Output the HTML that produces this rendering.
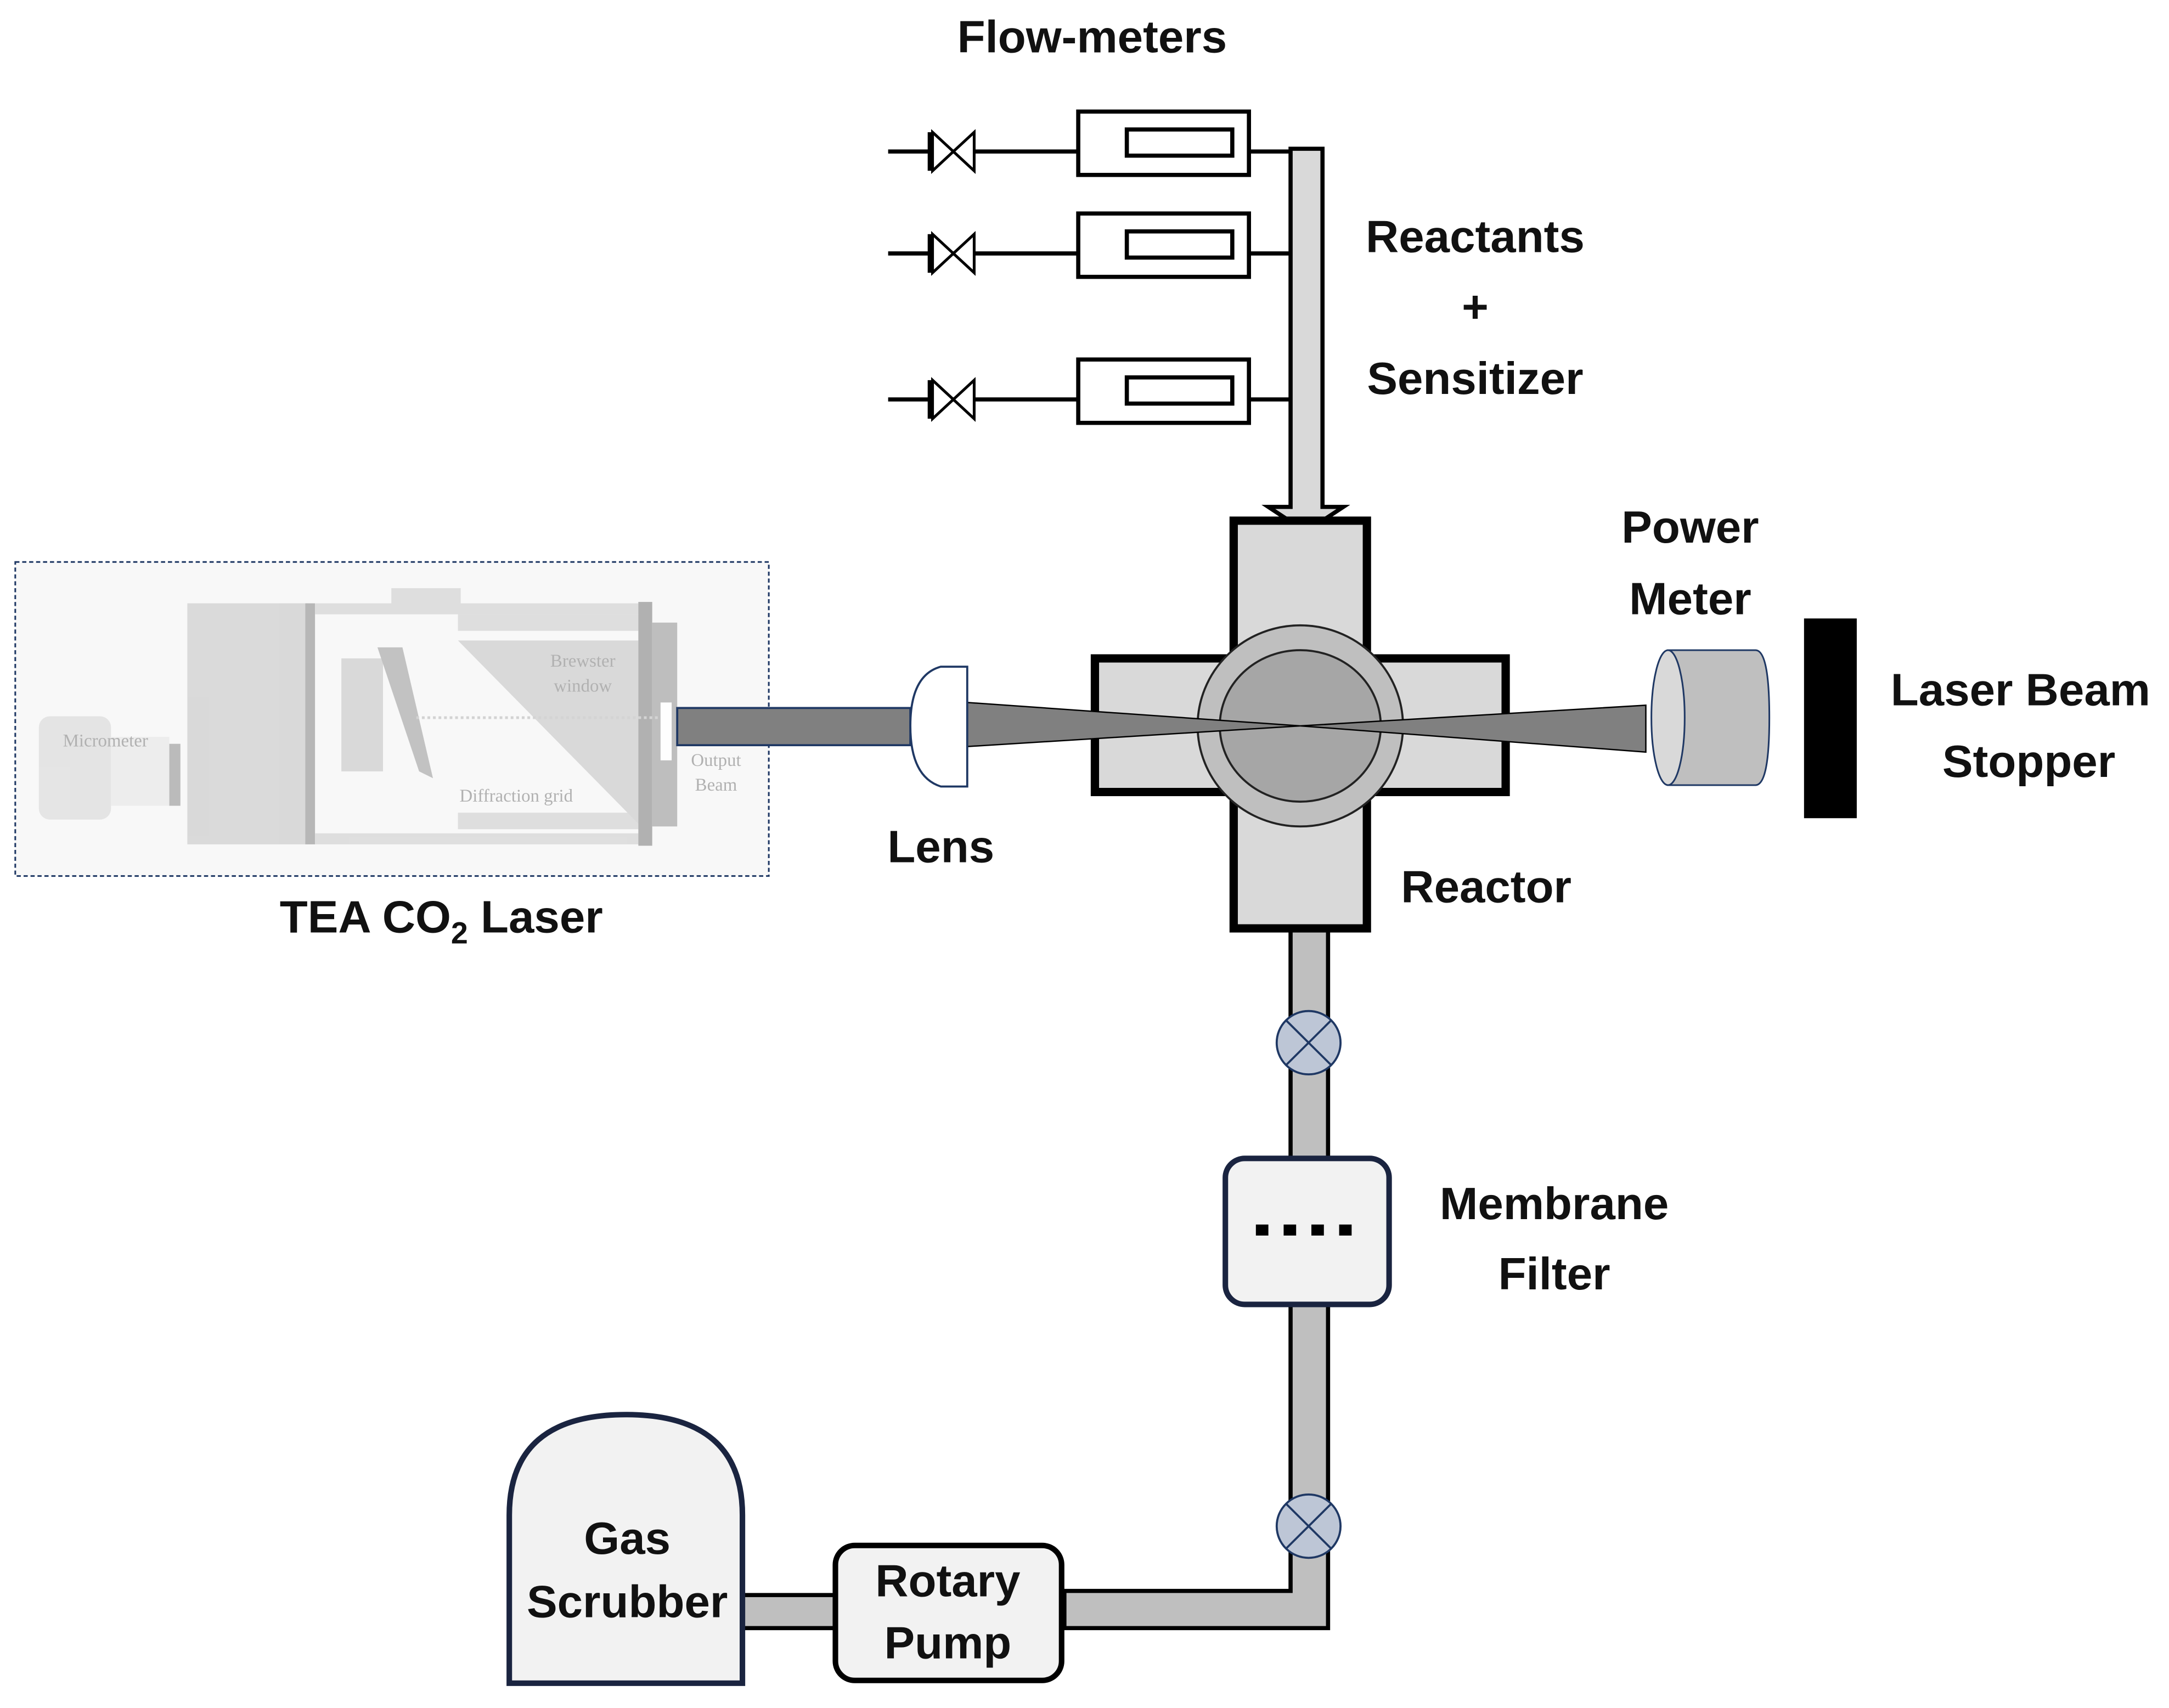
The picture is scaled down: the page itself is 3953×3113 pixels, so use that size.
<!DOCTYPE html>
<html><head><meta charset="utf-8"><style>
html,body{margin:0;padding:0;background:#fff;}
svg{display:block;}
text{font-family:"Liberation Sans",sans-serif;font-weight:bold;fill:#111;}
</style></head><body>
<svg width="3953" height="3113" viewBox="0 0 1563 1240" preserveAspectRatio="none" xmlns="http://www.w3.org/2000/svg">
<rect width="1563" height="1240" fill="#fff"/>
<!-- Laser box -->
<rect x="11" y="408" width="543" height="228" fill="#f8f8f8" stroke="#1f3864" stroke-width="1.2" stroke-dasharray="3,2"/>
<g opacity="0.9">
<rect x="135" y="438" width="87" height="175" fill="#d6d6d6"/>
<rect x="220" y="438" width="7" height="175" fill="#b0b0b0"/>
<rect x="227" y="438" width="233" height="8" fill="#dcdcdc"/>
<rect x="227" y="605" width="233" height="8" fill="#dcdcdc"/>
<rect x="282" y="427" width="50" height="14" fill="#dcdcdc"/>
<rect x="330" y="446" width="130" height="12" fill="#dcdcdc"/>
<rect x="330" y="590" width="130" height="12" fill="#dcdcdc"/>
<polygon points="330,465 460,465 460,598" fill="#d6d6d6"/>
<rect x="246" y="478" width="30" height="82" fill="#d6d6d6"/>
<polygon points="272,470 302,560 312,565 290,470" fill="#bdbdbd"/>
<rect x="460" y="437" width="10" height="177" fill="#aaaaaa"/>
<rect x="470" y="452" width="18" height="148" fill="#b8b8b8"/>
<rect x="476" y="510" width="8" height="42" fill="#fff"/>
<rect x="28" y="520" width="52" height="75" rx="8" fill="#e2e2e2"/>
<rect x="80" y="535" width="42" height="50" fill="#ececec"/>
<rect x="122" y="540" width="8" height="45" fill="#b5b5b5"/>
<line x1="300" y1="521" x2="476" y2="521" stroke="#d0d0d0" stroke-width="2" stroke-dasharray="2,2"/>
<text x="76" y="542" font-size="13" text-anchor="middle" style="font-family:'Liberation Serif',serif;font-weight:normal;fill:#aaa">Micrometer</text>
<text x="420" y="484" font-size="13" text-anchor="middle" style="font-family:'Liberation Serif',serif;font-weight:normal;fill:#aaa">Brewster</text>
<text x="420" y="502" font-size="13" text-anchor="middle" style="font-family:'Liberation Serif',serif;font-weight:normal;fill:#aaa">window</text>
<text x="372" y="582" font-size="13" text-anchor="middle" style="font-family:'Liberation Serif',serif;font-weight:normal;fill:#aaa">Diffraction grid</text>
<text x="516" y="556" font-size="13" text-anchor="middle" style="font-family:'Liberation Serif',serif;font-weight:normal;fill:#aaa">Output</text>
<text x="516" y="574" font-size="13" text-anchor="middle" style="font-family:'Liberation Serif',serif;font-weight:normal;fill:#aaa">Beam</text>
</g>
<!-- Laser beam bar -->
<rect x="488" y="514" width="168" height="27" fill="#808080" stroke="#1f3864" stroke-width="1.5"/>
<!-- Flow meters -->
<g stroke="#000" stroke-width="3" fill="none">
<g id="fm">
<line x1="640" y1="110" x2="777" y2="110"/>
<line x1="670" y1="96" x2="670" y2="124"/>
<polygon points="672,96 702,124 702,96 672,124" fill="#fff" stroke-width="2"/>
<rect x="777" y="81" width="123" height="46" fill="#fff"/>
<rect x="812" y="94" width="76" height="19" fill="#fff"/>
</g>
<use href="#fm" y="74"/>
<use href="#fm" y="180"/>
<line x1="900" y1="110" x2="930" y2="110"/>
<line x1="900" y1="184" x2="930" y2="184"/>
<line x1="900" y1="290" x2="930" y2="290"/>
</g>
<!-- feed pipe with arrow -->
<polygon points="930,108 953,108 953,368 968,368 941,386 914,368 930,368" fill="#d9d9d9" stroke="#000" stroke-width="3"/>
<!-- bottom pipe -->
<path d="M930,674 L930,1155 L767,1155 L767,1182 L957,1182 L957,674 Z" fill="#bfbfbf" stroke="#000" stroke-width="3"/>
<rect x="534" y="1158" width="70" height="24" fill="#bfbfbf" stroke="#000" stroke-width="3"/>
<!-- Reactor -->
<rect x="889" y="378" width="96" height="296" fill="#d9d9d9" stroke="#000" stroke-width="6"/>
<rect x="789" y="478" width="296" height="97" fill="#d9d9d9" stroke="#000" stroke-width="6"/>
<rect x="892" y="481" width="90" height="91" fill="#d9d9d9"/>
<ellipse cx="937" cy="527" rx="74" ry="73" fill="#bfbfbf" stroke="#222" stroke-width="1.5"/>
<ellipse cx="937" cy="527" rx="58" ry="55" fill="#a6a6a6" stroke="#222" stroke-width="1.5"/>
<!-- beam cone -->
<polygon points="697,510 937,527 697,542" fill="#808080" stroke="#000" stroke-width="1"/>
<polygon points="937,527 1186,512 1186,546" fill="#808080" stroke="#000" stroke-width="1"/>
<!-- Lens -->
<path d="M697,484 L678,484 Q656,490 656,527 Q656,564 678,571 L697,571 Z" fill="#fff" stroke="#1f3864" stroke-width="1.5"/>
<!-- Power meter -->
<path d="M1202,472 L1265,472 Q1275,472 1275,521 Q1275,570 1265,570 L1202,570 Z" fill="#bfbfbf" stroke="#1f3864" stroke-width="1.2"/>
<ellipse cx="1202" cy="521" rx="12" ry="49" fill="#d9d9d9" stroke="#1f3864" stroke-width="1.2"/>
<rect x="1300" y="449" width="38" height="145" fill="#000"/>
<!-- valves -->
<g fill="#bdc6d6" stroke="#1f3864" stroke-width="1.5">
<circle cx="943" cy="757" r="23"/>
<circle cx="943" cy="1108" r="23"/>
</g>
<g stroke="#1f3864" stroke-width="1.5">
<line x1="927" y1="741" x2="959" y2="773"/><line x1="959" y1="741" x2="927" y2="773"/>
<line x1="927" y1="1092" x2="959" y2="1124"/><line x1="959" y1="1092" x2="927" y2="1124"/>
</g>
<!-- membrane filter -->
<rect x="883" y="841" width="118" height="106" rx="14" fill="#f2f2f2" stroke="#1a2440" stroke-width="4"/>
<g fill="#000"><rect x="905" y="889" width="9" height="8"/><rect x="925" y="889" width="9" height="8"/><rect x="945" y="889" width="9" height="8"/><rect x="965" y="889" width="9" height="8"/></g>
<!-- rotary pump -->
<rect x="602" y="1122" width="163" height="98" rx="14" fill="#f2f2f2" stroke="#000" stroke-width="4"/>
<!-- gas scrubber -->
<path d="M367,1222 L367,1100 Q367,1027 451,1027 Q535,1027 535,1100 L535,1222 Z" fill="#f2f2f2" stroke="#1a2440" stroke-width="4"/>
<!-- labels -->
<g font-size="33" text-anchor="middle">
<text x="787" y="38">Flow-meters</text>
<text x="1063" y="183">Reactants</text>
<text x="1063" y="234">+</text>
<text x="1063" y="286">Sensitizer</text>
<text x="1218" y="394">Power</text>
<text x="1218" y="446">Meter</text>
<text x="1456" y="512">Laser Beam</text>
<text x="1462" y="564">Stopper</text>
<text x="678" y="626">Lens</text>
<text x="1071" y="655">Reactor</text>
<text x="318" y="677">TEA CO<tspan font-size="22" dy="8">2</tspan><tspan dy="-8"> Laser</tspan></text>
<text x="1120" y="885">Membrane</text>
<text x="1120" y="936">Filter</text>
<text x="452" y="1128">Gas</text>
<text x="452" y="1174">Scrubber</text>
<text x="683" y="1159">Rotary</text>
<text x="683" y="1204">Pump</text>
</g>
</svg>
</body></html>
